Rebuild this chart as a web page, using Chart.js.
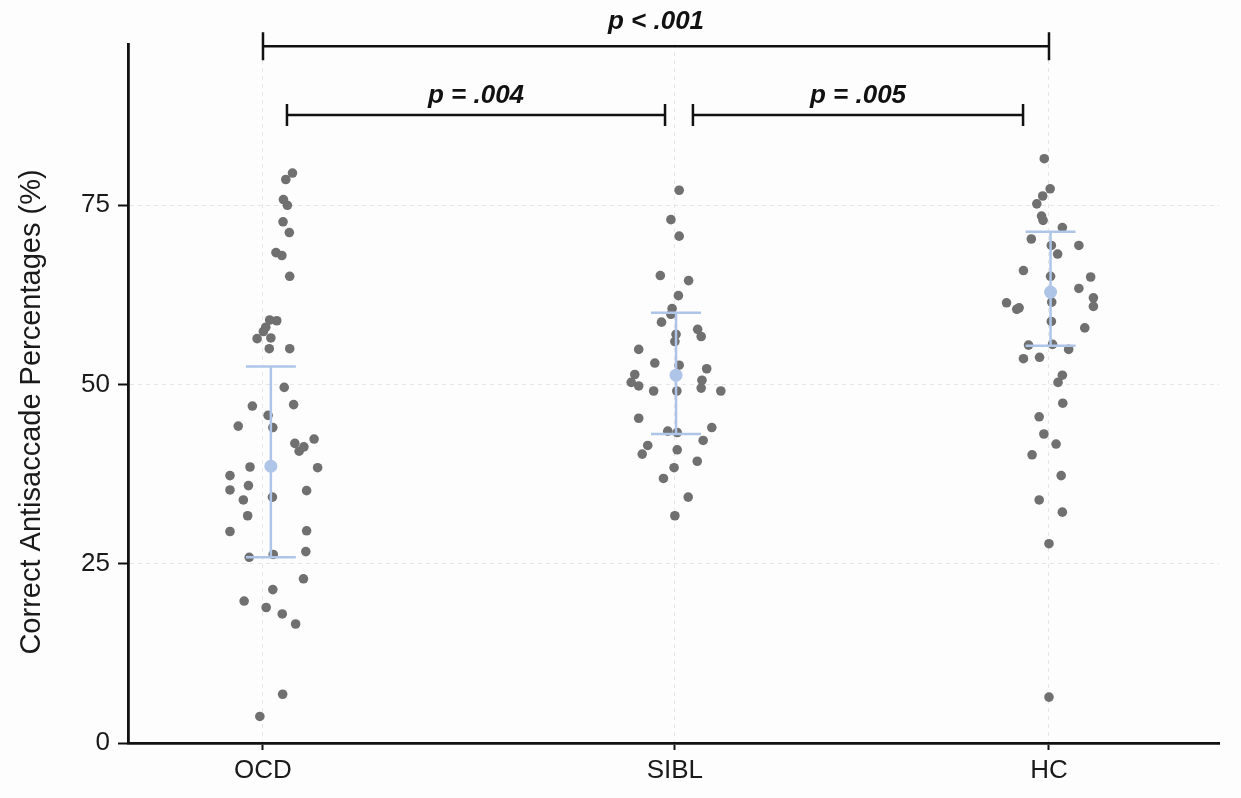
<!DOCTYPE html>
<html>
<head>
<meta charset="utf-8">
<script src="https://cdn.jsdelivr.net/npm/chart.js@4"></script>
<style>
  html, body { margin: 0; padding: 0; background: #fdfdfd; }
</style>
</head>
<body>
<canvas id="chart" width="1241" height="798"></canvas>
<script>
// groups and their positions on the x axis
const groups = ["OCD", "SIBL", "HC"];
const groupX = [0, 1.048, 2];

// individual participants (x = jittered position, y = % correct)
const ocdX = [0.075, 0.058, 0.052, 0.062, 0.051, 0.067, 0.033, 0.048, 0.068, 0.017, 0.035, 0.007, 0.001, -0.015, 0.020, 0.016, 0.068, 0.054, -0.027, 0.078, 0.013, -0.063, 0.025, 0.081, 0.104, 0.130, 0.092, -0.033, 0.139, -0.084, -0.037, -0.084, 0.111, -0.050, 0.024, -0.039, -0.084, 0.111, 0.109, -0.035, 0.026, 0.103, 0.025, -0.048, 0.008, 0.049, 0.083, 0.050, -0.008];
const ocdY = [79.5, 78.6, 75.8, 75.0, 72.7, 71.2, 68.4, 68.0, 65.1, 59.0, 58.9, 58.0, 57.4, 56.4, 56.5, 55.0, 55.0, 49.6, 47.0, 47.2, 45.7, 44.2, 44.0, 41.8, 41.3, 42.4, 40.7, 38.5, 38.4, 37.3, 35.9, 35.3, 35.2, 33.9, 34.3, 31.7, 29.5, 29.6, 26.7, 25.9, 26.3, 22.9, 21.4, 19.8, 18.9, 18.0, 16.6, 6.8, 3.7];

const siblX = [1.059, 1.038, 1.059, 1.011, 1.083, 1.057, 1.041, 1.038, 1.014, 1.106, 1.115, 1.051, 1.048, 0.956, 0.997, 1.059, 1.129, 0.946, 0.937, 0.956, 1.117, 1.115, 0.994, 1.053, 1.165, 0.956, 1.142, 1.030, 1.054, 1.120, 0.979, 0.965, 1.054, 1.105, 1.046, 1.019, 1.082, 1.048];
const siblY = [77.1, 73.0, 70.7, 65.2, 64.5, 62.4, 60.6, 59.8, 58.7, 57.7, 56.7, 57.0, 56.0, 54.9, 53.0, 52.7, 52.2, 51.4, 50.3, 49.8, 50.6, 49.5, 49.1, 49.1, 49.1, 45.3, 44.0, 43.5, 43.3, 42.2, 41.5, 40.3, 40.9, 39.3, 38.4, 36.9, 34.3, 31.7];

const hcX = [1.988, 2.003, 1.984, 1.969, 1.981, 1.985, 2.034, 1.955, 2.076, 2.006, 2.022, 1.935, 2.004, 2.106, 2.076, 2.007, 2.113, 2.113, 1.892, 1.918, 1.924, 2.006, 2.091, 1.948, 2.009, 2.050, 1.935, 1.976, 2.034, 2.023, 2.035, 1.975, 1.987, 2.018, 1.957, 2.031, 1.975, 2.034, 2.000, 2.000];
const hcY = [81.5, 77.3, 76.3, 75.2, 73.5, 72.9, 71.9, 70.3, 69.4, 69.4, 68.2, 65.9, 65.1, 65.0, 63.4, 61.5, 62.1, 60.9, 61.4, 60.5, 60.7, 58.8, 57.9, 55.5, 55.6, 54.9, 53.6, 53.8, 51.3, 50.3, 47.4, 45.5, 43.1, 41.7, 40.2, 37.3, 33.9, 32.2, 27.8, 6.4];

// group means with error bars
const meanX = [0.020, 1.051, 2.004];
const meanY = [38.6, 51.3, 62.9];
const errLow = [25.9, 43.1, 55.4];
const errHigh = [52.5, 60.0, 71.3];

// significance brackets
const bracketFrom = [0, 0.061, 1.094];
const bracketTo = [2, 1.023, 1.934];
const bracketY = [97.2, 87.6, 87.6];
const bracketText = ["p < .001", "p = .004", "p = .005"];
const bracketTextY = [100.6, 90.3, 90.3];

const yTitle = "Correct Antisaccade Percentages (%)";

const toPoints = (xs, ys) => xs.map((x, i) => ({ x: x, y: ys[i] }));

Chart.defaults.font.family = '"Liberation Sans", Arial, Helvetica, sans-serif';

const dotColor = "#707070";
const meanColor = "#aec5e8";

const extras = {
  id: "extras",
  beforeDraw(chart) {
    const ctx = chart.ctx;
    ctx.save();
    ctx.fillStyle = "#fdfdfd";
    ctx.fillRect(0, 0, chart.width, chart.height);
    ctx.restore();
  },
  afterDatasetsDraw(chart) {
    const { ctx, scales: { x, y } } = chart;
    ctx.save();
    ctx.strokeStyle = meanColor;
    ctx.lineWidth = 2.5;
    meanX.forEach((mx, i) => {
      const px = x.getPixelForValue(mx);
      const top = y.getPixelForValue(errHigh[i]);
      const bot = y.getPixelForValue(errLow[i]);
      ctx.beginPath();
      ctx.moveTo(px, top); ctx.lineTo(px, bot);
      ctx.moveTo(px - 25, top); ctx.lineTo(px + 25, top);
      ctx.moveTo(px - 25, bot); ctx.lineTo(px + 25, bot);
      ctx.stroke();
      ctx.fillStyle = meanColor;
      ctx.beginPath();
      ctx.arc(px, y.getPixelForValue(meanY[i]), 6.5, 0, Math.PI * 2);
      ctx.fill();
    });
    ctx.restore();
  },
  afterDraw(chart) {
    const { ctx, scales: { x, y } } = chart;
    ctx.save();
    // brackets
    ctx.strokeStyle = "#111";
    ctx.fillStyle = "#111";
    ctx.lineWidth = 2.5;
    ctx.font = 'italic bold 26px "Liberation Sans", Arial, sans-serif';
    ctx.textAlign = "center";
    ctx.textBaseline = "middle";
    bracketFrom.forEach((from, i) => {
      const x1 = x.getPixelForValue(from);
      const x2 = x.getPixelForValue(bracketTo[i]);
      const py = y.getPixelForValue(bracketY[i]);
      const cap = i === 0 ? 14 : 11;
      ctx.beginPath();
      ctx.moveTo(x1, py); ctx.lineTo(x2, py);
      ctx.moveTo(x1, py - cap); ctx.lineTo(x1, py + cap);
      ctx.moveTo(x2, py - cap); ctx.lineTo(x2, py + cap);
      ctx.stroke();
      ctx.fillText(bracketText[i], (x1 + x2) / 2, y.getPixelForValue(bracketTextY[i]));
    });
    // y axis title
    ctx.translate(32, 412);
    ctx.rotate(-Math.PI / 2);
    ctx.font = '29px "Liberation Sans", Arial, sans-serif';
    ctx.fillStyle = "#1a1a1a";
    ctx.fillText(yTitle, 0, 0);
    ctx.restore();
  }
};

new Chart(document.getElementById("chart"), {
  type: "scatter",
  data: {
    datasets: [
      { label: "OCD", data: toPoints(ocdX, ocdY), backgroundColor: dotColor, borderWidth: 0, pointRadius: 4.8 },
      { label: "SIBL", data: toPoints(siblX, siblY), backgroundColor: dotColor, borderWidth: 0, pointRadius: 4.8 },
      { label: "HC", data: toPoints(hcX, hcY), backgroundColor: dotColor, borderWidth: 0, pointRadius: 4.8 }
    ]
  },
  options: {
    responsive: false,
    animation: false,
    layout: { padding: { top: 44, right: 22, left: 0, bottom: 0 } },
    plugins: { legend: { display: false }, tooltip: { enabled: false } },
    scales: {
      x: {
        type: "linear",
        min: -0.3435,
        max: 2.4326,
        afterBuildTicks: (s) => { s.ticks = groupX.map(v => ({ value: v })); },
        afterFit: (s) => { s.height = 55; },
        ticks: {
          callback: (v, i) => groups[i],
          autoSkip: false,
          maxRotation: 0,
          padding: 5,
          color: "#1a1a1a",
          font: { size: 26 }
        },
        grid: { color: "#e6e6e6", lineWidth: 1, tickColor: "#111", tickLength: 7, tickWidth: 2 },
        border: { color: "#111", width: 2.8, dash: [4, 4] }
      },
      y: {
        min: 0,
        max: 97.5,
        afterFit: (s) => { s.width = 128; },
        ticks: {
          stepSize: 25,
          includeBounds: false,
          padding: 8,
          color: "#1a1a1a",
          font: { size: 26 }
        },
        grid: {
          color: (c) => c.tick && c.tick.value === 0 ? "rgba(0,0,0,0)" : "#e6e6e6",
          lineWidth: 1, tickColor: "#111", tickLength: 10, tickWidth: 2
        },
        border: { color: "#111", width: 2.8, dash: [4, 4] }
      }
    }
  },
  plugins: [extras]
});
</script>
</body>
</html>
